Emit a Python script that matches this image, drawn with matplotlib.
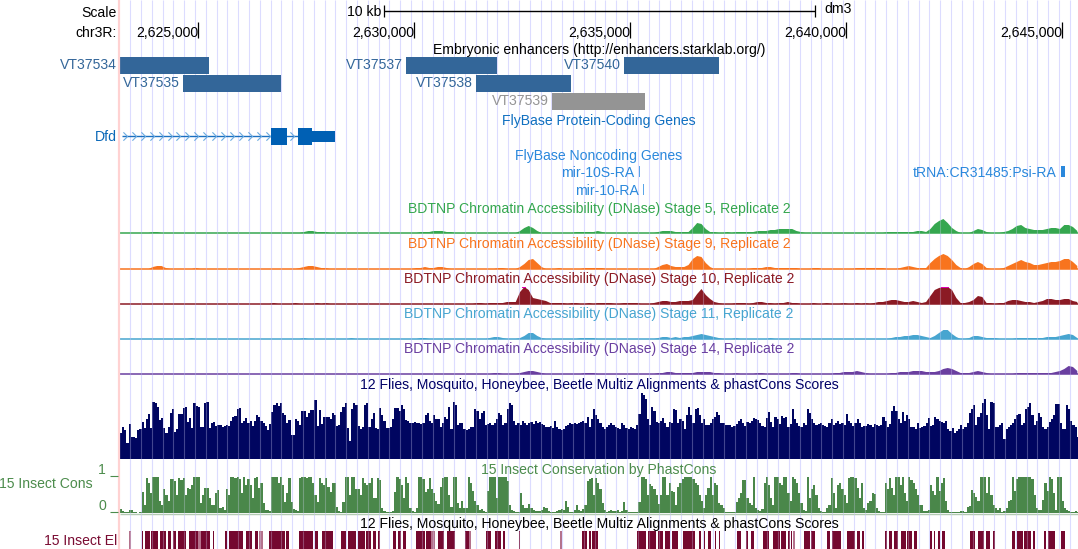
import numpy as np
import matplotlib
matplotlib.use('Agg')
import matplotlib.pyplot as plt

plt.rcParams['font.family'] = ['Liberation Sans', 'DejaVu Sans']

# window on chr3R, figure is 1078 px wide and the tracks start at px 120
win_start = 2623194
win_end = 2645370
bp_per_px = 23.15
fs = 10.1
dy = 1.2

tick_pos = [2625000, 2630000, 2635000, 2640000, 2645000]
tick_labels = ['2,625,000', '2,630,000', '2,635,000', '2,640,000', '2,645,000']

enh_names = ['VT37534', 'VT37535', 'VT37537', 'VT37538', 'VT37539', 'VT37540']
enh_start = [2623190, 2624660, 2629810, 2631440, 2633190, 2634860]
enh_end = [2625250, 2626920, 2631920, 2633640, 2635340, 2637060]
enh_row = [0, 1, 0, 1, 2, 0]
enh_color = ['#336699', '#336699', '#336699', '#336699', '#949494', '#336699']

dfd_start = 2623240
dfd_exons = [(2626690, 2627060), (2627320, 2627630)]
dfd_utr = (2627630, 2628160)

# signal heights, 100 bp bins
stage5 = ([0,0,0,0,0,0,0,1,1,0,0,0,0,0,0,0,0,0,0,0] + [0]*20 +
          [0,0,1,2,2,1,1,1,0,0,0,0,0,0,0,0,0,0,0,0] +
          [0,0,0,0,0,0,0,0,0,1,1,1,2,2,2,1,1,0,0,0] +
          [0,0,0,0,0,0,0,0,0,0,0,0,2,5,7,5,2,0,0,0] +
          [0,0,0,0,0,1,1,1,1,1,2,1,0,0,0,0,0,0,0,0] +
          [0,0,0,0,1,2,2,2,1,1,1,1,5,10,9,4,1,1,0,0] +
          [1,0,1,1,1,1,1,2,2,2,3,3,4,4,4,4,2,1,0,0] +
          [0,0,0,0,0,0,0,0,0,0,0,0,0,0,0,0,0,1,1,1] +
          [1,1,1,1,2,2,1,4,9,12,14,10,5,2,0,0,0,2,4,3] +
          [1,0,0,0,1,2,4,7,8,5,4,3,3,3,4,5,5,4,8,8] + [6,2])
stage9 = ([0,0,0,0,0,0,0,2,3,3,1,0,0,0,0,0,0,1,0,0] + [0]*20 +
          [0,1,2,3,3,2,1,1,0,0,0,0,0,0,0,0,0,0,0,0] +
          [0,0,0,0,0,0,0,0,1,1,2,1,1,2,2,1,0,0,0,0] +
          [0,0,0,0,0,0,0,1,1,0,0,0,2,5,9,10,6,2,0,0] +
          [0,1,0,0,0,0,0,1,1,1,1,1,0,0,0,0,0,0,0,0] +
          [0,0,0,0,2,4,5,3,2,2,2,4,10,13,12,6,2,0,0,0] +
          [0,0,0,0,0,0,1,1,1,2,2,1,1,1,1,1,1,0,0,0] +
          [1,1,0,0,0,0,0,0,0,0,1,1,1,1,1,1,1,0,0,0] +
          [1,2,3,2,1,1,1,6,10,13,15,13,9,4,1,0,2,5,7,5] +
          [1,0,0,0,1,3,5,7,9,7,6,4,4,5,6,7,7,8,10,10] + [7,3])
stage10 = ([0]*20 + [0,0,0,0,0,0,0,0,0,0,0,0,0,0,0,1,0,0,0,0] +
           [1,0,0,0,0,1,0,1,0,0,0,0,0,0,0,0,0,0,0,0] + [0]*20 +
           [0,0,1,1,0,1,1,1,1,2,2,2,12,17,14,6,5,4,3,1] +
           [1,1,1,0,1,1,0,0,1,0,1,1,1,1,0,0,1,1,1,1] +
           [0,0,0,1,2,3,3,2,2,3,3,3,4,10,15,9,5,2,1,0] +
           [0,0,1,1,1,0,1,2,2,1,1,0,1,1,2,1,1,0,0,0] +
           [1,0,0,1,0,0,0,1,0,0,1,0,1,0,1,2,2,3,4,4] +
           [3,2,2,3,2,1,2,8,14,16,17,17,14,6,1,1,2,4,8,7] +
           [1,1,0,1,1,3,4,4,3,2,2,1,2,3,5,5,4,4,5,5] + [3,2])
stage11 = ([0,0,0,0,0,0,0,0,0,0,0,0,0,0,0,0,1,0,0,0] + [0]*20 +
           [0,0,1,0,0,0,0,0,0,0,0,0,0,1,0,0,0,0,0,0] +
           [0,0,0,0,0,0,0,0,0,1,1,0,0,0,0,0,0,0,0,0] +
           [0,0,0,0,0,1,2,2,1,0,0,0,1,3,6,6,3,1,0,0] +
           [0,0,0,0,0,0,1,1,1,1,0,0,0,0,0,0,0,0,0,0] +
           [0,0,0,0,1,2,2,1,2,1,2,2,3,4,5,4,3,2,1,0] +
           [0,0,1,0,0,0,0,0,0,0,1,0,0,0,0,0,0,0,0,0] +
           [0,0,0,0,0,0,0,0,0,0,0,0,0,0,0,0,0,0,1,2] +
           [2,3,3,4,4,3,2,1,3,6,9,9,5,2,0,0,1,3,3,2] +
           [1,1,1,0,0,0,0,1,1,1,1,1,1,1,2,2,2,3,4,5] + [4,1])
stage14 = ([0]*80 +
           [0,0,0,0,0,0,1,1,0,0,0,0,1,2,3,3,2,1,0,0] +
           [0,0,0,0,0,0,0,1,1,1,0,0,0,0,0,0,0,0,0,0] +
           [0,0,0,0,1,1,2,2,1,1,1,1,1,2,2,2,2,1,1,0] +
           [0,0,1,0,0,0,0,1,1,0,0,0,0,0,0,1,1,0,0,0] +
           [0,0,0,0,0,1,1,2,2,2,3,2,1,0,0,0,0,0,1,1] +
           [2,2,2,3,3,3,2,2,2,3,5,6,5,3,1,1,1,2,3,2] +
           [1,0,0,0,0,0,0,1,1,1,1,1,1,1,1,1,2,3,5,8] + [7,3])

stage_tracks = [stage5, stage9, stage10, stage11, stage14]
stage_names = ['5', '9', '10', '11', '14']
stage_colors = ['#35a74f', '#f8741e', '#8b1a24', '#47a5d0', '#6a3fa0']
stage_base = [232.5, 268.5, 303.5, 338.5, 373.5]
stage_text_y = [208, 243, 278, 313, 348]

# multiz heights, 50 bp bins
multiz = [26,32,29,16,35,22,22,21,29,30,37,31,40,45,31,57,56,52,39,41,
          31,26,32,46,50,27,30,45,45,51,52,37,41,31,56,53,52,32,32,56,
          57,31,36,37,33,34,34,32,33,34,33,38,42,43,50,51,36,38,41,36,
          38,33,38,44,42,38,36,33,29,35,47,54,56,53,
          56,46,44,36,39,24,24,40,38,34,48,48,42,46,49,49,59,33,49,35,
          42,42,42,40,46,44,33,34,47,52,56,31,18,50,56,54,33,30,32,54,
          56,32,40,46,31,30,51,44,38,31,31,32,40,51,51,48,54,50,39,38,
          36,36,37,36,36,35,36,44,46,38,36,44,40,40,
          32,36,42,40,52,30,57,54,34,36,36,30,29,30,32,32,50,48,40,46,
          48,34,35,36,34,36,40,46,44,34,36,50,56,54,38,34,36,34,38,36,
          34,36,37,35,38,36,37,35,34,32,32,33,31,38,32,30,29,30,33,34,
          36,35,36,35,36,37,38,36,42,32,40,50,44,40,
          36,32,30,32,34,36,34,32,31,30,36,34,31,30,32,31,30,34,45,66,
          64,60,40,34,52,48,37,36,38,41,36,32,37,36,50,49,36,40,38,30,
          44,52,44,36,50,51,44,36,40,34,34,36,40,42,47,44,36,36,34,34,
          34,32,33,35,38,40,36,33,37,36,38,41,40,39,
          36,33,32,41,47,37,32,42,40,35,43,41,42,32,35,50,40,36,33,32,
          36,34,50,46,40,36,34,35,36,34,33,32,36,40,34,36,38,35,36,34,
          45,38,36,33,36,40,36,32,33,33,35,34,32,35,34,33,34,42,38,32,
          35,48,53,48,40,36,47,38,44,40,32,32,30,36,
          31,32,33,36,41,33,34,42,40,38,37,36,38,30,28,31,26,28,30,34,
          30,32,36,46,50,54,34,42,46,56,60,44,30,57,56,32,32,34,36,20,
          30,32,34,36,40,44,45,34,36,50,52,56,44,34,38,46,42,32,30,32,
          37,40,44,55,55,36,30,30,54,50,38,34,32,22]

# phastCons, 36 = score of 1, 50 bp bins
phast = [4,2,1,1,3,3,1,1,0,1,21,8,35,30,20,36,36,36,12,8,
         24,18,12,34,34,32,18,35,33,35,18,25,24,28,36,36,36,10,18,25,
         25,15,8,8,20,23,5,6,3,24,18,36,36,35,36,34,20,36,28,34,
         28,15,35,36,25,30,10,3,3,2,36,36,36,30,
         36,28,11,20,35,11,4,3,2,35,36,36,35,36,36,30,18,11,35,30,
         28,35,26,21,30,30,6,2,1,11,36,36,18,36,36,24,24,18,35,30,
         28,30,35,15,15,35,33,5,2,1,1,1,2,21,36,34,28,15,36,30,
         5,2,1,5,36,36,34,21,24,35,24,20,12,9,
         26,35,36,36,18,6,36,36,10,5,12,5,5,36,30,22,12,8,3,4,
         2,1,22,36,36,36,15,36,36,36,36,32,8,3,2,1,1,20,8,5,
         5,9,5,3,2,2,2,3,6,5,2,1,1,1,2,3,4,3,12,6,
         1,1,3,8,3,2,4,8,32,34,35,18,35,30,
         24,10,3,1,2,3,2,2,3,1,2,11,3,1,1,1,1,1,11,36,
         36,34,18,29,27,24,18,9,18,36,36,18,30,22,21,8,26,30,34,36,
         36,36,36,34,30,28,18,12,5,18,25,36,18,30,28,10,8,5,1,1,
         1,1,1,11,15,20,33,33,15,10,8,36,5,3,
         2,4,30,36,28,15,8,36,36,30,28,36,36,20,12,36,34,30,20,10,
         3,2,36,15,24,28,18,5,2,1,1,5,8,35,20,5,28,30,24,18,
         10,35,36,36,35,25,15,30,5,3,10,12,20,19,5,2,1,1,30,24,
         35,25,18,36,36,28,36,20,12,36,33,30,24,18,
         8,8,2,2,3,28,22,18,36,22,30,35,12,3,1,1,1,1,1,2,
         2,1,6,7,23,20,16,12,36,36,36,20,36,18,8,5,3,5,1,2,
         5,12,13,36,22,34,36,36,36,36,36,36,34,18,5,3,3,13,30,22,
         36,34,20,3,36,36,12,5,3,2,1,1,2,1]

# conserved elements
el_start = [2623700,2623770,2623910,2624120,2624300,2624420,2624530,2624790,2625070,2625340,
            2625620,2625710,2626110,2626320,2626640,2627030,2627330,2627700,2627870,2628310,
            2628470,2628700,2628890,2629050,2629160,2629510,2629630,2629740,2630040,2630270,
            2630550,2630760,2631180,2631660,2631870,2632060,2632430,2633890,2634050,2634120,
            2635160,2635410,2635640,2635810,2635970,2636220,2636590,2636710,2636800,2636960,
            2637060,2637470,2637680,2637800,2638080,2638310,2638490,2638650,2638720,2639020,
            2639190,2639560,2639670,2640020,2640250,2640370,2640900,2640990,2641110,2641270,
            2641410,2641570,2641940,2642030,2642130,2642220,2642870,2643050,2643240,2643400,
            2643840,2643960,2644120,2644330,2644580,2644670,2644970]
el_end = [2623720,2623880,2624070,2624250,2624370,2624490,2624720,2625000,2625270,2625370,
          2625670,2626040,2626250,2626380,2627010,2627100,2627660,2627770,2628120,2628420,
          2628650,2628860,2629000,2629120,2629210,2629580,2629700,2629810,2630250,2630390,
          2630690,2630950,2631270,2631780,2632010,2632100,2632450,2634000,2634090,2634260,
          2635370,2635600,2635760,2635920,2636110,2636500,2636640,2636730,2636870,2636990,
          2637080,2637570,2637730,2637870,2638210,2638470,2638610,2638700,2638750,2639160,
          2639280,2639630,2639880,2640200,2640320,2640410,2640950,2641060,2641200,2641390,
          2641520,2641640,2641990,2642060,2642170,2642290,2642980,2643190,2643330,2643450,
          2643910,2644090,2644280,2644370,2644630,2644830,2645070]
el_faint_start = [2623400,2625000,2626410,2630390,2631270,2633380,2638770]
el_faint_end = [2623440,2625070,2626500,2630480,2631320,2633420,2638820]


def bin_edges(values, width):
    return win_start + width * np.arange(len(values) + 1)


def label(ax, x, y, s, **kw):
    kw.setdefault('va', 'center')
    kw.setdefault('ha', 'center')
    ax.text(x, y + dy, s, fontsize=fs, **kw)


fig = plt.figure(figsize=(10.78, 5.49), dpi=100)
gen = fig.add_axes([0, 0, 1, 1])
x0 = win_start - 120 * bp_per_px
gen.set_xlim(x0, x0 + 1078 * bp_per_px)
gen.set_ylim(549, 0)
gen.axis('off')
lab = fig.add_axes([0, 0, 1, 1], zorder=5)
lab.set_xlim(0, 1078)
lab.set_ylim(549, 0)
lab.axis('off')
lab.patch.set_alpha(0)

# guide lines, 250 bp apart
guides = np.arange(2623430, win_end, 250)
gen.vlines(guides, 0, 549, color='#dcdcff', lw=0.8, zorder=1)
lab.axvline(119, color='#ffd2d2', lw=1.6, zorder=1)

# scale and ruler
gen.hlines(11, 2629300, 2639280, color='black', lw=1, zorder=3)
gen.vlines([2629300, 2639280], 5, 17, color='black', lw=0.9, zorder=3)
gen.vlines(tick_pos, 22, 38, color='black', lw=0.9, zorder=3)
for p, t in zip(tick_pos, tick_labels):
    label(gen, p + 5, 32, t, ha='right', zorder=4)
label(lab, 117, 12, 'Scale', ha='right')
label(lab, 117, 32, 'chr3R:', ha='right')
label(lab, 381, 11, '10 kb', ha='right')
label(lab, 824, 8, 'dm3', ha='left')

# enhancers
label(lab, 599, 49, 'Embryonic enhancers (http://enhancers.starklab.org/)')
row_top = [57, 75, 93]
for n, a, b, r, c in zip(enh_names, enh_start, enh_end, enh_row, enh_color):
    gen.barh(row_top[r], b - a, left=a, height=17, align='edge', color=c, lw=0, zorder=3)
    label(gen, a - 70, row_top[r] + 7, n, ha='right', color=c, zorder=4)

# gene models
label(lab, 599, 120, 'FlyBase Protein-Coding Genes', color='#1070c0')
label(lab, 117, 136, 'Dfd', ha='right', color='#0a68b8')
gen.hlines(136, dfd_start, dfd_exons[1][0], color='#1a6fc0', lw=1, zorder=3)
chevrons = list(np.arange(2623300, 2626690, 208)) + [2627180]
gen.plot(chevrons, [136] * len(chevrons), ls='none', marker=[(-0.5, -1), (0.5, 0), (-0.5, 1)],
         ms=6, mfc='none', mec='#6aaae0', mew=0.8, zorder=3)
for a, b in dfd_exons:
    gen.barh(128, b - a, left=a, height=17, align='edge', color='#0060b4', lw=0, zorder=4)
gen.barh(131, dfd_utr[1] - dfd_utr[0], left=dfd_utr[0], height=11, align='edge', color='#0060b4', lw=0, zorder=4)

label(lab, 599, 155, 'FlyBase Noncoding Genes', color='#2a88dc')
label(lab, 634, 172, 'mir-10S-RA', ha='right', color='#2a88dc')
label(lab, 639, 190, 'mir-10-RA', ha='right', color='#2a88dc')
label(lab, 1057, 172, 'tRNA:CR31485:Psi-RA', ha='right', color='#2a88dc')
gen.barh(166, 25, left=2635210, height=11, align='edge', color='#5aa5e8', lw=0, zorder=3)
gen.barh(184, 25, left=2635290, height=11, align='edge', color='#5aa5e8', lw=0, zorder=3)
gen.barh(166, 100, left=2644970, height=11, align='edge', color='#2a88dc', lw=0, zorder=3)

# DNase tracks
for vals, name, col, base, ty in zip(stage_tracks, stage_names, stage_colors, stage_base, stage_text_y):
    vals = np.array(vals, dtype=float)
    edges = bin_edges(vals, 100)
    gen.fill_between(edges[:-1] + 50, base - vals, base, color=col, lw=0, zorder=2)
    gen.hlines(base, win_start, win_end, color=col, lw=1.1, zorder=2)
    clipped = np.where(vals >= 17)[0]
    if len(clipped):
        gen.bar(edges[clipped], 1.5, width=100, bottom=base - 17, align='edge', color='#e000b0', lw=0, zorder=3)
    label(lab, 599, ty, 'BDTNP Chromatin Accessibility (DNase) Stage %s, Replicate 2' % name, color=col)

# multiz and phastCons
label(lab, 599, 384, '12 Flies, Mosquito, Honeybee, Beetle Multiz Alignments & phastCons Scores', color='#000066')
mv = np.array(multiz, dtype=float)
gen.stairs(459 - mv, bin_edges(mv, 50), baseline=459, fill=True, color='#000560', lw=0, zorder=2)

label(lab, 599, 469, '15 Insect Conservation by PhastCons', color='#4c8c4c')
pv = np.array(phast, dtype=float)
gen.stairs(513 - pv, bin_edges(pv, 50), baseline=513, fill=True, color='#4a874a', lw=0, zorder=2)
gen.hlines(513.5, win_start, win_end, color='#b4cbb4', lw=1, zorder=2)
label(lab, 93, 483, '15 Insect Cons', ha='right', color='#4c8c4c')
label(lab, 106, 469, '1', ha='right', color='#4c8c4c')
label(lab, 106, 505, '0', ha='right', color='#4c8c4c')
lab.hlines([476, 512], 110, 118, color='#4c8c4c', lw=0.8)

# conserved elements
label(lab, 599, 523, '12 Flies, Mosquito, Honeybee, Beetle Multiz Alignments & phastCons Scores', color='black')
label(lab, 117, 540, '15 Insect El', ha='right', color='#7a0c33')
el_start = np.array(el_start)
el_end = np.array(el_end)
gen.barh(531, el_end - el_start, left=el_start, height=18, align='edge', color='#74082f', lw=0, zorder=2)
el_faint_start = np.array(el_faint_start)
el_faint_end = np.array(el_faint_end)
gen.barh(531, el_faint_end - el_faint_start, left=el_faint_start, height=18, align='edge', color='#b4728c', lw=0, zorder=2)

# guides show through the signal tracks
for top, bottom in [(215, 375), (390, 515), (531, 549)]:
    gen.vlines(guides, top, bottom, color='#dcdcff', lw=0.8, alpha=0.3, zorder=3)

fig.savefig('out.png', dpi=100)
